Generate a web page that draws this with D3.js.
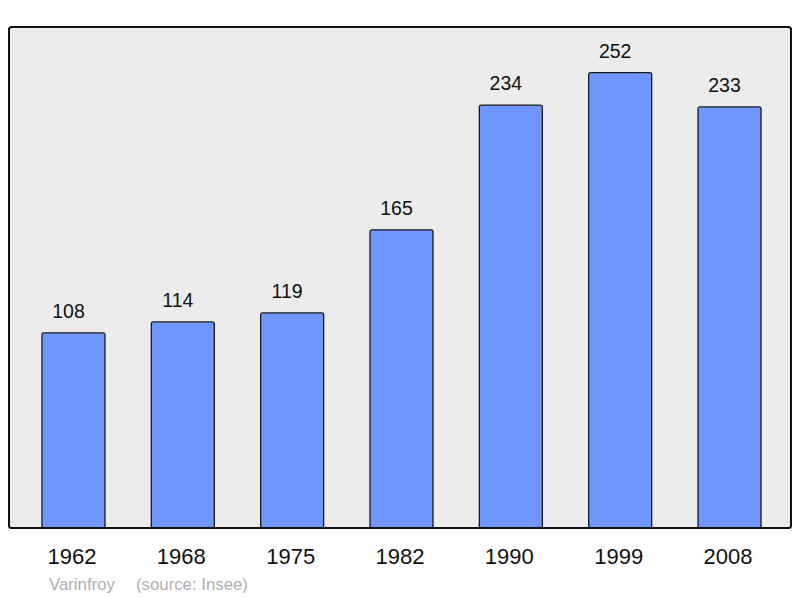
<!DOCTYPE html>
<html>
<head>
<meta charset="utf-8">
<script src="https://cdn.jsdelivr.net/npm/d3@7"></script>
<style>
  body { margin: 0; background: #fff; }
  text { font-family: "Liberation Sans", Arial, sans-serif; }
</style>
</head>
<body>
<div id="chart"></div>
<script>
var years = ["1962", "1968", "1975", "1982", "1990", "1999", "2008"];
var population = [108, 114, 119, 165, 234, 252, 233];
var commune = "Varinfroy";
var source = "(source: Insee)";

var width = 800, height = 598;
var panel = { left: 9, top: 27, right: 791, bottom: 528 };

var svg = d3.select("#chart").append("svg")
  .attr("width", width)
  .attr("height", height);

// background panel
svg.append("rect")
  .attr("x", panel.left)
  .attr("y", panel.top)
  .attr("width", panel.right - panel.left)
  .attr("height", panel.bottom - panel.top)
  .attr("rx", 2.5)
  .style("fill", "#ececec")
  .style("stroke", "none");

var x = d3.scaleBand()
  .domain(years)
  .range([18.8, 784.2])
  .paddingInner(0.424)
  .paddingOuter(0.212);

var y = d3.scaleLinear()
  .domain([0, d3.max(population) * 1.1])
  .range([panel.bottom, panel.top]);

var data = years.map(function(d, i) {
  return { year: d, value: population[i] };
});

svg.selectAll(".bar")
  .data(data)
  .enter().append("rect")
  .attr("class", "bar")
  .attr("x", function(d) { return x(d.year); })
  .attr("width", x.bandwidth())
  .attr("y", function(d) { return y(d.value); })
  .attr("height", function(d) { return y(0) - y(d.value); })
  .attr("rx", 2)
  .style("fill", "#7097ff")
  .style("stroke", "#1a1a1a")
  .style("stroke-width", 1.3);

// value labels, set slightly left of the bar centre as in the original
svg.selectAll(".val")
  .data(data)
  .enter().append("text")
  .attr("class", "val")
  .attr("x", function(d) { return x(d.year) + x.bandwidth() / 2 - 5; })
  .attr("y", function(d) { return y(d.value) - 15; })
  .attr("text-anchor", "middle")
  .style("font-size", "19.5px")
  .style("fill", "#111")
  .text(function(d) { return d.value; });

// frame drawn over the bars' bottoms
svg.append("rect")
  .attr("x", panel.left)
  .attr("y", panel.top)
  .attr("width", panel.right - panel.left)
  .attr("height", panel.bottom - panel.top)
  .attr("rx", 2.5)
  .style("fill", "none")
  .style("stroke", "#111")
  .style("stroke-width", 2);

// year labels via a bottom axis without lines
var xAxis = d3.axisBottom(x).tickSize(0).tickPadding(0);
var gx = svg.append("g")
  .attr("transform", "translate(-1.5," + panel.bottom + ")")
  .call(xAxis);
gx.select(".domain").remove();
gx.selectAll("text")
  .attr("dy", null)
  .attr("y", 36)
  .style("font-size", "22px")
  .style("font-family", "'Liberation Sans', Arial, sans-serif")
  .style("fill", "#111");

svg.append("text")
  .attr("x", 49)
  .attr("y", 590)
  .style("font-size", "16.8px")
  .style("fill", "#b0b0b0")
  .text(commune);

svg.append("text")
  .attr("x", 136)
  .attr("y", 590)
  .style("font-size", "16.8px")
  .style("fill", "#b0b0b0")
  .text(source);
</script>
</body>
</html>
